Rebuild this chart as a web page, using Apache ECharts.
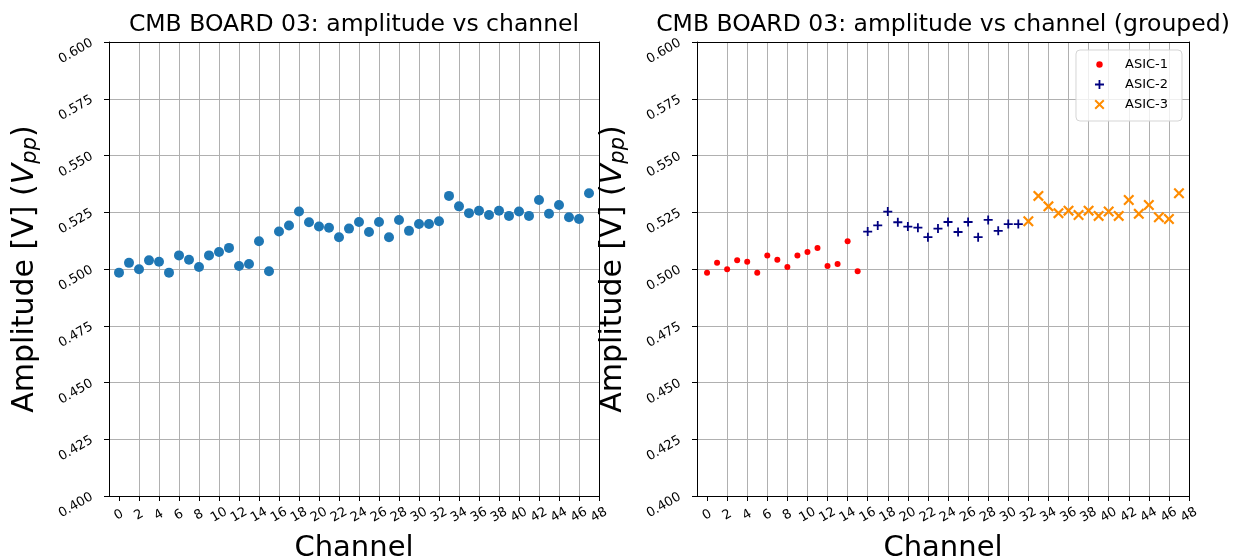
<!DOCTYPE html>
<html>
<head>
<meta charset="utf-8">
<title>CMB BOARD 03: amplitude vs channel</title>
<script src="https://cdn.jsdelivr.net/npm/echarts@6/dist/echarts.min.js"></script>
<style>
  html, body { margin: 0; padding: 0; background: #fff; }
  #chart { width: 1242px; height: 560px; }
</style>
</head>
<body>
<div id="chart"></div>
<script>
// Channel numbers of CMB board 03
const channels = [0, 1, 2, 3, 4, 5, 6, 7, 8, 9, 10, 11, 12, 13, 14, 15,
                  16, 17, 18, 19, 20, 21, 22, 23, 24, 25, 26, 27, 28, 29, 30, 31,
                  32, 33, 34, 35, 36, 37, 38, 39, 40, 41, 42, 43, 44, 45, 46, 47];

// Measured peak-to-peak amplitude per channel [V]
const amplitudes = [0.4984, 0.5027, 0.4999, 0.5038, 0.5032, 0.4984, 0.5060, 0.5041,
                    0.5009, 0.5060, 0.5075, 0.5093, 0.5013, 0.5022, 0.5122, 0.4990,
                    0.5165, 0.5192, 0.5253, 0.5206, 0.5187, 0.5182, 0.5140, 0.5178,
                    0.5207, 0.5163, 0.5207, 0.5140, 0.5216, 0.5168, 0.5198, 0.5198,
                    0.5210, 0.5322, 0.5276, 0.5246, 0.5257, 0.5238, 0.5257, 0.5234,
                    0.5253, 0.5234, 0.5304, 0.5243, 0.5282, 0.5228, 0.5220, 0.5334];

// ASIC groups: name and [first, last] channel
const asicNames = ['ASIC-1', 'ASIC-2', 'ASIC-3'];
const asicRanges = [[0, 15], [16, 31], [32, 47]];

// Axis ticks
const xTicks = [0, 2, 4, 6, 8, 10, 12, 14, 16, 18, 20, 22, 24,
                26, 28, 30, 32, 34, 36, 38, 40, 42, 44, 46, 48];
const xRange = [-1, 48];
const yRange = [0.4, 0.6];
const yStep = 0.025;

const FONT = 'DejaVu Sans';

// Marker shapes
const PLUS = 'path://M4,0H6V4H10V6H6V10H4V6H0V4H4Z';
const CROSS = 'path://M0,1.4L1.4,0L5,3.6L8.6,0L10,1.4L6.4,5L10,8.6L8.6,10L5,6.4L1.4,10L0,8.6L3.6,5Z';
// Legend icons share one box size, so the smaller marks carry padding points
const DOT_ICON = 'path://M0,0M11,11M2.3,5.5A3.2,3.2,0,1,1,8.7,5.5A3.2,3.2,0,1,1,2.3,5.5Z';
const PLUS_ICON = 'path://M0,0M11,11M4.6,1H6.4V4.6H10V6.4H6.4V10H4.6V6.4H1V4.6H4.6Z';
const CROSS_ICON = 'path://M0,0M11,11M0.5,1.9L1.9,0.5L5.5,4.1L9.1,0.5L10.5,1.9L6.9,5.5L10.5,9.1L9.1,10.5L5.5,6.9L1.9,10.5L0.5,9.1L4.1,5.5Z';

const asicStyles = [
  { color: '#ff0000', symbol: 'circle', size: 6, icon: DOT_ICON },
  { color: '#000080', symbol: PLUS, size: 9, icon: PLUS_ICON },
  { color: '#ff8c00', symbol: CROSS, size: 11, icon: CROSS_ICON }
];

const grids = [
  { left: 109, top: 42, width: 490, height: 454, outerBoundsMode: 'none', containLabel: false },
  { left: 697, top: 42, width: 492, height: 454, outerBoundsMode: 'none', containLabel: false }
];

const titles = ['CMB BOARD 03: amplitude vs channel',
                'CMB BOARD 03: amplitude vs channel (grouped)'];

const frameLine = { show: true, onZero: false, lineStyle: { color: '#000', width: 1 } };
const gridLine = {
  show: true, showMinLine: false, showMaxLine: false,
  lineStyle: { color: '#b0b0b0', width: 1 }
};
const tickStyle = { show: true, inside: false, length: 5, lineStyle: { color: '#000', width: 1 } };

function bottomAxis(gi) {
  return {
    type: 'value', gridIndex: gi, position: 'bottom',
    min: xRange[0], max: xRange[1],
    name: 'Channel', nameLocation: 'middle', nameGap: 38,
    nameTextStyle: { fontFamily: FONT, fontSize: 29, color: '#000' },
    axisLine: frameLine,
    axisTick: Object.assign({ customValues: xTicks }, tickStyle),
    axisLabel: {
      customValues: xTicks, rotate: 30, align: 'center', verticalAlign: 'middle',
      margin: 19, fontFamily: FONT, fontSize: 13, color: '#000'
    },
    splitLine: gridLine
  };
}

function topAxis(gi) {
  return {
    type: 'value', gridIndex: gi, position: 'top',
    min: xRange[0], max: xRange[1],
    axisLine: frameLine, axisTick: { show: false }, axisLabel: { show: false },
    splitLine: { show: false }
  };
}

function leftAxis(gi) {
  return {
    type: 'value', gridIndex: gi, position: 'left',
    min: yRange[0], max: yRange[1], interval: yStep,
    name: 'Amplitude [V] ({v|V}{pp|pp})', nameLocation: 'middle', nameGap: 68,
    nameTextStyle: {
      fontFamily: FONT, fontSize: 30, color: '#000',
      rich: {
        v: { fontFamily: FONT, fontSize: 30, fontStyle: 'italic', color: '#000' },
        pp: { fontFamily: FONT, fontSize: 21, fontStyle: 'italic', color: '#000',
              verticalAlign: 'bottom', padding: [10, 0, 0, 0] }
      }
    },
    axisLine: frameLine,
    axisTick: tickStyle,
    axisLabel: {
      rotate: 30, margin: 17, fontFamily: FONT, fontSize: 13, color: '#000',
      formatter: function (v) { return v.toFixed(3); }
    },
    splitLine: gridLine
  };
}

function rightAxis(gi) {
  return {
    type: 'value', gridIndex: gi, position: 'right',
    min: yRange[0], max: yRange[1], interval: yStep,
    axisLine: frameLine, axisTick: { show: false }, axisLabel: { show: false },
    splitLine: { show: false }
  };
}

function pairs(from, to) {
  const out = [];
  for (let i = 0; i < channels.length; i++) {
    if (channels[i] >= from && channels[i] <= to) out.push([channels[i], amplitudes[i]]);
  }
  return out;
}

const series = [{
  type: 'scatter', name: 'amplitude', xAxisIndex: 0, yAxisIndex: 0,
  symbol: 'circle', symbolSize: 10,
  itemStyle: { color: '#1f77b4', opacity: 1 },
  data: pairs(channels[0], channels[channels.length - 1])
}];

asicNames.forEach(function (name, k) {
  const st = asicStyles[k];
  series.push({
    type: 'scatter', name: name, xAxisIndex: 1, yAxisIndex: 1,
    symbol: st.symbol, symbolSize: st.size,
    itemStyle: { color: st.color, opacity: 1 },
    data: pairs(asicRanges[k][0], asicRanges[k][1])
  });
});

const option = {
  animation: false,
  backgroundColor: '#ffffff',
  title: [
    { text: titles[0], left: 354, top: 13, padding: 0, textAlign: 'center',
      textStyle: { fontFamily: FONT, fontSize: 23.5, fontWeight: 'normal', color: '#000' } },
    { text: titles[1], left: 943, top: 13, padding: 0, textAlign: 'center',
      textStyle: { fontFamily: FONT, fontSize: 23.5, fontWeight: 'normal', color: '#000' } }
  ],
  legend: {
    orient: 'vertical', right: 60, top: 50,
    padding: [8, 14, 10, 18],
    itemGap: 7, itemWidth: 11, itemHeight: 11,
    backgroundColor: 'rgba(255,255,255,0.8)',
    borderColor: '#d5d5d5', borderWidth: 1, borderRadius: 4,
    textStyle: { fontFamily: FONT, fontSize: 13, color: '#000', padding: [0, 0, 0, 15] },
    data: asicNames.map(function (name, k) {
      return { name: name, icon: asicStyles[k].icon };
    })
  },
  grid: grids,
  xAxis: [bottomAxis(0), bottomAxis(1), topAxis(0), topAxis(1)],
  yAxis: [leftAxis(0), leftAxis(1), rightAxis(0), rightAxis(1)],
  series: series
};

const chart = echarts.init(document.getElementById('chart'), null, { renderer: 'canvas' });
chart.setOption(option);
</script>
</body>
</html>
